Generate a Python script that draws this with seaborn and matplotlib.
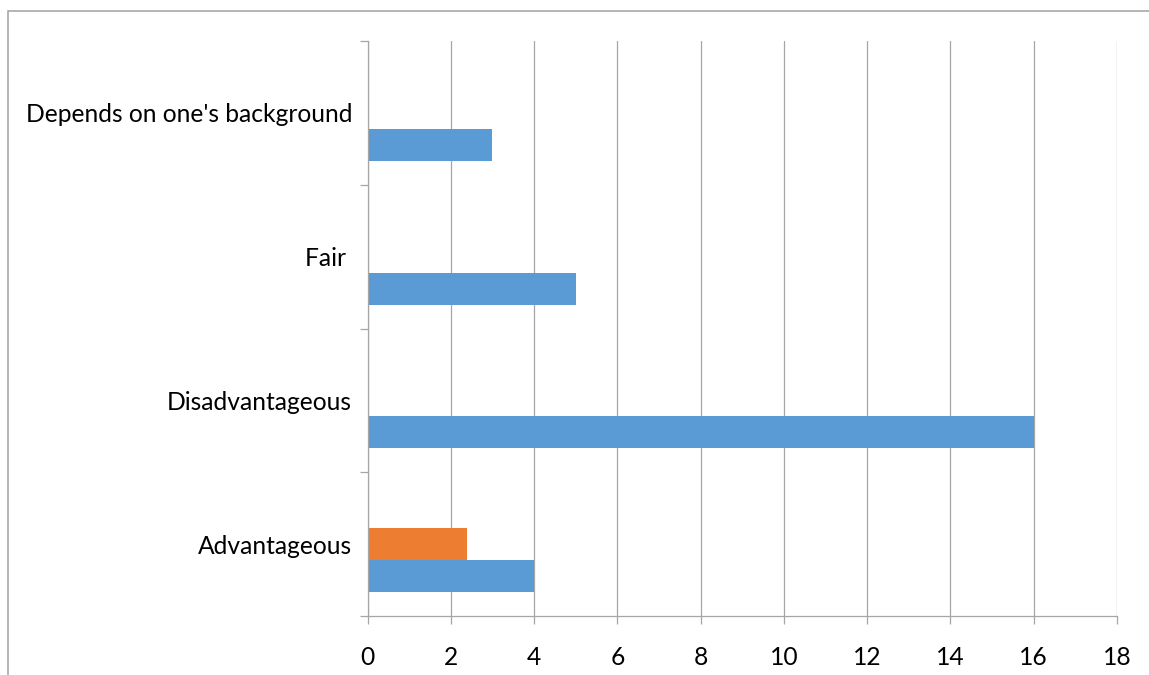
import matplotlib
matplotlib.use("Agg")
import matplotlib.pyplot as plt
from matplotlib.patches import Rectangle
import seaborn as sns
import pandas as pd

# Survey answers, listed top to bottom as they appear on the chart
categories = ["Depends on one's background", "Fair ", "Disadvantageous", "Advantageous"]
series1 = [3, 5, 16, 4]
series2 = [0, 0, 0, 2.4]
series3 = [0, 0, 0, 0]
x_ticks = [0, 2, 4, 6, 8, 10, 12, 14, 16, 18]

series_names = ["Series3", "Series2", "Series1"]
series_values = [series3, series2, series1]
palette = {"Series1": "#5B9BD5", "Series2": "#ED7D31", "Series3": "#A5A5A5"}

rows = []
for name, vals in zip(series_names, series_values):
    for cat, v in zip(categories, vals):
        rows.append({"category": cat, "series": name, "value": v})
df = pd.DataFrame(rows)

sns.set_theme(style="white")
plt.rcParams["font.family"] = ["Lato", "DejaVu Sans"]

fig = plt.figure(figsize=(11.49, 6.75), dpi=100)
ax = fig.add_axes([367.5 / 1149, 1 - 616 / 675, (1117 - 367.5) / 1149, (616 - 41) / 675])

grid_color = "#A6A6A6"
for x in x_ticks:
    ax.axvline(x, color=grid_color, lw=0.9, zorder=0)

sns.barplot(data=df, y="category", x="value", hue="series", order=categories,
            hue_order=series_names, palette=palette, orient="h", width=0.667,
            linewidth=0, saturation=1, legend=False, ax=ax, zorder=2)

ax.set_xlim(0, 18)
ax.set_ylim(len(categories) - 0.5, -0.5)
ax.set_xticks(x_ticks)
ax.set_xticklabels([str(t) for t in x_ticks])
ax.set_yticks([i - 0.5 for i in range(len(categories) + 1)])
ax.set_yticklabels([])
ax.set_yticks(range(len(categories)), minor=True)
ax.set_yticklabels(categories, minor=True)
ax.set_xlabel("")
ax.set_ylabel("")

ax.tick_params(axis="x", which="major", direction="out", length=6, width=0.9,
               color=grid_color, pad=15.5, labelsize=17.7, labelcolor="black", bottom=True)
ax.tick_params(axis="y", which="major", direction="out", length=5.5, width=0.9,
               color=grid_color, left=True)
ax.tick_params(axis="y", which="minor", length=0, pad=11, labelsize=17.7,
               labelcolor="black", left=True)

for side in ("top", "right"):
    ax.spines[side].set_visible(False)
for side in ("left", "bottom"):
    ax.spines[side].set_color(grid_color)
    ax.spines[side].set_linewidth(0.9)

# Outer chart frame
fig.patches.append(Rectangle((8 / 1149, -0.05), 1.1, 1 - 11 / 675 + 0.05,
                             transform=fig.transFigure, fill=False,
                             edgecolor="#A0A0A0", lw=1.1, zorder=0))

fig.savefig("out.png", dpi=100, facecolor="white")
